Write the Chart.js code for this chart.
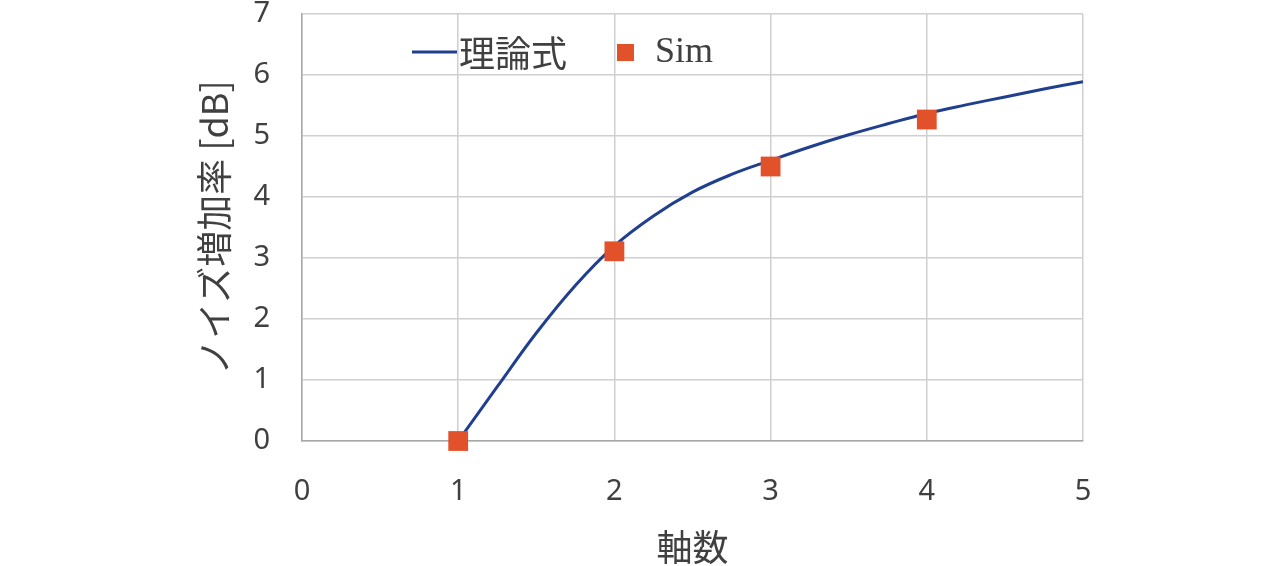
<!DOCTYPE html>
<html>
<head>
<meta charset="utf-8">
<script src="https://cdn.jsdelivr.net/npm/chart.js@4"></script>
<style>
html,body{margin:0;padding:0;background:#fff;}
#wrap{width:1284px;height:566px;position:relative;}
</style>
</head>
<body>
<div id="wrap"><canvas id="c"></canvas></div>
<script>
// ---- data ----
const theoryLabel = '理論式';
const simLabel = 'Sim';
const theoryX = [1, 1.25, 1.5, 1.75, 2, 2.25, 2.5, 2.75, 3, 3.25, 3.5, 3.75, 4, 4.25, 4.5, 4.75, 5];
const theoryY = [0, 0.89, 1.77, 2.55, 3.2, 3.69, 4.08, 4.37, 4.6, 4.82, 5.02, 5.2, 5.37, 5.51, 5.64, 5.77, 5.89];
const simX = [1, 2, 3, 4];
const simY = [0, 3.11, 4.5, 5.27];
const xTitle = '軸数';
const yTitle = 'ノイズ増加率 [dB]';

const lineColor = '#203f8e';
const simColor = '#e2522a';
const textColor = '#404040';
const cjk = '"Noto Sans CJK JP", "Noto Sans", sans-serif';

const legendPlugin = {
  id: 'customLegend',
  afterDraw(chart) {
    const ctx = chart.ctx;
    const ds = chart.data.datasets;
    ctx.save();
    const y = 52;
    ctx.strokeStyle = ds[0].borderColor;
    ctx.lineWidth = 3;
    ctx.beginPath();
    ctx.moveTo(412, y);
    ctx.lineTo(457, y);
    ctx.stroke();
    ctx.fillStyle = textColor;
    ctx.textBaseline = 'middle';
    ctx.textAlign = 'left';
    ctx.font = '36px ' + cjk;
    ctx.fillText(ds[0].label, 459, y + 1);
    ctx.fillStyle = ds[1].backgroundColor;
    ctx.fillRect(617, y - 8, 17, 17);
    ctx.fillStyle = textColor;
    ctx.font = '36px "Liberation Serif", "Times New Roman", serif';
    ctx.fillText(ds[1].label, 655, y + 1);
    ctx.restore();
  }
};

new Chart(document.getElementById('c'), {
  type: 'scatter',
  data: {
    datasets: [
      {
        label: theoryLabel,
        data: theoryX.map((x, i) => ({x, y: theoryY[i]})),
        showLine: true,
        borderColor: lineColor,
        backgroundColor: lineColor,
        borderWidth: 3,
        pointRadius: 0,
        tension: 0.4,
        order: 2
      },
      {
        label: simLabel,
        data: simX.map((x, i) => ({x, y: simY[i]})),
        showLine: false,
        pointStyle: 'rect',
        pointRadius: 14,
        backgroundColor: simColor,
        borderColor: simColor,
        borderWidth: 0,
        clip: false,
        order: 1
      }
    ]
  },
  options: {
    responsive: true,
    maintainAspectRatio: false,
    animation: false,
    events: [],
    layout: { padding: { left: 0, right: 201, top: 14, bottom: 0 } },
    plugins: { legend: { display: false }, tooltip: { enabled: false } },
    scales: {
      x: {
        type: 'linear',
        min: 0, max: 5,
        ticks: { stepSize: 1, padding: 33, color: textColor, font: { family: '"Noto Sans", sans-serif', size: 29 } },
        grid: { color: '#cfcfcf', lineWidth: 1.5, drawTicks: false },
        border: { color: '#a8a8a8', width: 1.5 },
        title: { display: true, text: xTitle, color: textColor, font: { family: cjk, size: 36 }, padding: { top: 0, bottom: -3 } },
        afterFit(s) { s.height = 125; s.paddingLeft = 0; s.paddingRight = 0; }
      },
      y: {
        type: 'linear',
        min: 0, max: 7,
        ticks: { stepSize: 1, padding: 32, color: textColor, font: { family: '"Noto Sans", sans-serif', size: 29 } },
        grid: { color: '#cfcfcf', lineWidth: 1.5, drawTicks: false },
        border: { color: '#a8a8a8', width: 1.5 },
        title: { display: true, text: yTitle, color: textColor, font: { family: cjk, size: 36 }, padding: { top: 193, bottom: 0 } },
        afterFit(s) { s.width = 302; s.paddingTop = 0; s.paddingBottom = 0; }
      }
    }
  },
  plugins: [legendPlugin]
});
</script>
</body>
</html>
